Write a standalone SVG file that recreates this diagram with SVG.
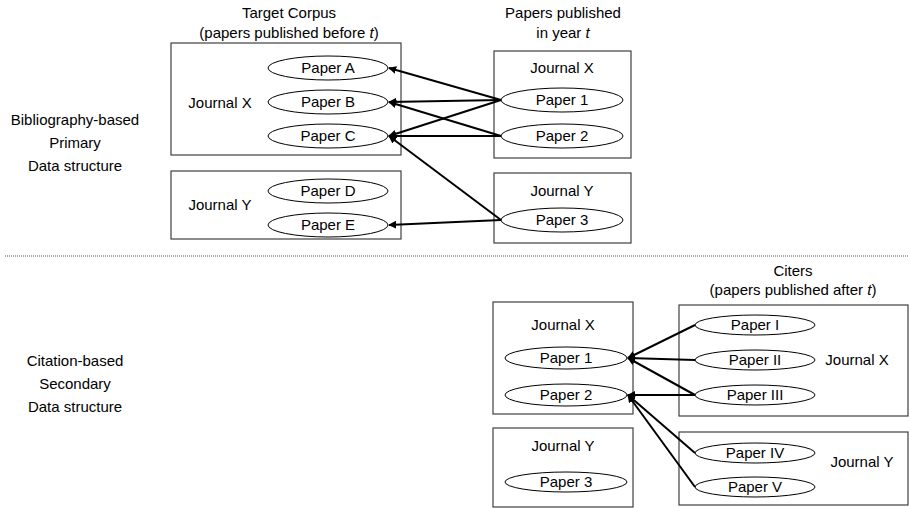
<svg xmlns="http://www.w3.org/2000/svg" width="909" height="508" viewBox="0 0 909 508">
<style>
text{font-family:"Liberation Sans",Arial,sans-serif;font-size:15px;fill:#000;text-anchor:middle}
.box{fill:#fff;stroke:#404040;stroke-width:1.2}
.ell{fill:#fff;stroke:#000;stroke-width:1}
.arr{stroke:#000;stroke-width:2;fill:none;marker-end:url(#ah)}
</style>
<defs>
<marker id="ah" viewBox="0 0 10 10" refX="9" refY="5" markerWidth="4" markerHeight="4" orient="auto" markerUnits="strokeWidth">
<path d="M0,0 L10,5 L0,10 z" fill="#000"/>
</marker>
</defs>
<rect width="909" height="508" fill="#fff"/>

<g id="labels">
<text x="289" y="18">Target Corpus</text>
<text x="289" y="38">(papers published before <tspan font-style="italic">t</tspan>)</text>
<text x="563" y="18">Papers published</text>
<text x="563" y="38">in year <tspan font-style="italic">t</tspan></text>
<text x="75" y="125">Bibliography-based</text>
<text x="75" y="148">Primary</text>
<text x="75" y="171">Data structure</text>
<text x="793" y="276">Citers</text>
<text x="793" y="295">(papers published after <tspan font-style="italic">t</tspan>)</text>
<text x="75" y="366">Citation-based</text>
<text x="75" y="389">Secondary</text>
<text x="75" y="412">Data structure</text>
</g>

<line x1="5" y1="256" x2="909" y2="256" stroke="#555" stroke-width="1" stroke-dasharray="1,1"/>

<g id="tc-journal-x">
<rect class="box" x="171" y="43" width="230" height="112"/>
<text x="220" y="108">Journal X</text>
</g>
<g id="paper-a"><ellipse class="ell" cx="328" cy="68" rx="60" ry="12"/><text x="328" y="73">Paper A</text></g>
<g id="paper-b"><ellipse class="ell" cx="328" cy="102" rx="60" ry="12"/><text x="328" y="107">Paper B</text></g>
<g id="paper-c"><ellipse class="ell" cx="328" cy="136" rx="60" ry="12"/><text x="328" y="141">Paper C</text></g>

<g id="tc-journal-y">
<rect class="box" x="171" y="171" width="230" height="68"/>
<text x="220" y="210">Journal Y</text>
</g>
<g id="paper-d"><ellipse class="ell" cx="328" cy="191" rx="60" ry="12"/><text x="328" y="196">Paper D</text></g>
<g id="paper-e"><ellipse class="ell" cx="328" cy="225" rx="60" ry="12"/><text x="328" y="230">Paper E</text></g>

<g id="py-journal-x">
<rect class="box" x="494" y="51" width="137" height="107"/>
<text x="562" y="73">Journal X</text>
</g>
<g id="py-paper-1"><ellipse class="ell" cx="562" cy="100" rx="61" ry="12"/><text x="562" y="105">Paper 1</text></g>
<g id="py-paper-2"><ellipse class="ell" cx="562" cy="136" rx="61" ry="12"/><text x="562" y="141">Paper 2</text></g>

<g id="py-journal-y">
<rect class="box" x="494" y="173" width="137" height="70"/>
<text x="562" y="196">Journal Y</text>
</g>
<g id="py-paper-3"><ellipse class="ell" cx="562" cy="220" rx="61" ry="12"/><text x="562" y="225">Paper 3</text></g>

<g id="sd-journal-x">
<rect class="box" x="493" y="302" width="140" height="112"/>
<text x="563" y="330">Journal X</text>
</g>
<g id="sd-paper-1"><ellipse class="ell" cx="566" cy="358" rx="61" ry="11"/><text x="566" y="363">Paper 1</text></g>
<g id="sd-paper-2"><ellipse class="ell" cx="566" cy="395" rx="61" ry="11"/><text x="566" y="400">Paper 2</text></g>

<g id="sd-journal-y">
<rect class="box" x="493" y="428" width="140" height="79"/>
<text x="563" y="451">Journal Y</text>
</g>
<g id="sd-paper-3"><ellipse class="ell" cx="566" cy="482" rx="61" ry="10"/><text x="566" y="487">Paper 3</text></g>

<g id="citers-journal-x">
<rect class="box" x="679" y="305" width="229" height="111"/>
<text x="857" y="365">Journal X</text>
</g>
<g id="paper-i"><ellipse class="ell" cx="755" cy="325" rx="60" ry="10"/><text x="755" y="330">Paper I</text></g>
<g id="paper-ii"><ellipse class="ell" cx="755" cy="360" rx="60" ry="10"/><text x="755" y="365">Paper II</text></g>
<g id="paper-iii"><ellipse class="ell" cx="755" cy="395" rx="60" ry="10"/><text x="755" y="400">Paper III</text></g>

<g id="citers-journal-y">
<rect class="box" x="679" y="432" width="229" height="73"/>
<text x="862" y="467">Journal Y</text>
</g>
<g id="paper-iv"><ellipse class="ell" cx="755" cy="453" rx="60" ry="10"/><text x="755" y="458">Paper IV</text></g>
<g id="paper-v"><ellipse class="ell" cx="755" cy="487" rx="60" ry="10"/><text x="755" y="492">Paper V</text></g>

<g id="connectors">
<line class="arr" x1="501" y1="100" x2="389" y2="68"/>
<line class="arr" x1="501" y1="100" x2="389" y2="102"/>
<line class="arr" x1="501" y1="100" x2="389" y2="136"/>
<line class="arr" x1="501" y1="136" x2="389" y2="102"/>
<line class="arr" x1="501" y1="136" x2="389" y2="136"/>
<line class="arr" x1="501" y1="220" x2="389" y2="136"/>
<line class="arr" x1="501" y1="220" x2="389" y2="225"/>
<line class="arr" x1="695" y1="325" x2="628" y2="358"/>
<line class="arr" x1="695" y1="360" x2="628" y2="358"/>
<line class="arr" x1="695" y1="395" x2="628" y2="358"/>
<line class="arr" x1="695" y1="395" x2="628" y2="395"/>
<line class="arr" x1="695" y1="453" x2="628" y2="395"/>
<line class="arr" x1="695" y1="487" x2="628" y2="395"/>
</g>
</svg>
